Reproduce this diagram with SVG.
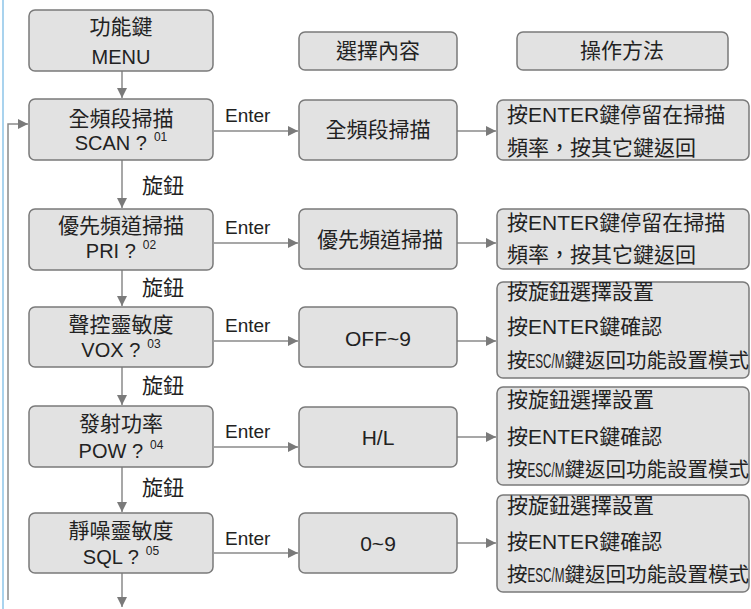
<svg xmlns="http://www.w3.org/2000/svg" width="751" height="609" viewBox="0 0 751 609">
<style>
.box{fill:#e2e2e2;stroke:#7a7a7a;stroke-width:1.5}
.t{font-family:"Liberation Sans","Noto Sans CJK TC",sans-serif;fill:#222;font-size:21px}
.c{text-anchor:middle}
.l{font-size:20px}
.e{font-size:19px}
.sup{font-size:12px}
.n{font-size:20.5px}
.con{fill:none;stroke:#8a8a8a;stroke-width:1.5}
</style>
<defs>
<marker id="ah" viewBox="0 0 10 10" refX="10" refY="5" markerWidth="10" markerHeight="10" markerUnits="userSpaceOnUse" orient="auto"><path d="M0,0 L10,5 L0,10 z" fill="#7a7a7a"/></marker>
</defs>
<rect width="751" height="609" fill="#ffffff"/>
<line x1="3" y1="0" x2="3" y2="609" stroke="#a9d3ee" stroke-width="2"/>

<g id="connectors">
<path class="con" d="M8,600 V124 H28" marker-end="url(#ah)"/>
<line class="con" x1="122" y1="71" x2="122" y2="98" marker-end="url(#ah)"/>
<line class="con" x1="122" y1="160" x2="122" y2="208" marker-end="url(#ah)"/>
<line class="con" x1="122" y1="270" x2="122" y2="306" marker-end="url(#ah)"/>
<line class="con" x1="122" y1="367" x2="122" y2="405" marker-end="url(#ah)"/>
<line class="con" x1="122" y1="467" x2="122" y2="512" marker-end="url(#ah)"/>
<line class="con" x1="122" y1="573" x2="122" y2="607" marker-end="url(#ah)"/>
<line class="con" x1="214" y1="131" x2="298" y2="131" marker-end="url(#ah)"/>
<line class="con" x1="214" y1="243" x2="298" y2="243" marker-end="url(#ah)"/>
<line class="con" x1="214" y1="341" x2="298" y2="341" marker-end="url(#ah)"/>
<line class="con" x1="214" y1="447" x2="298" y2="447" marker-end="url(#ah)"/>
<line class="con" x1="214" y1="553" x2="298" y2="553" marker-end="url(#ah)"/>
<line class="con" x1="457" y1="131" x2="496" y2="131" marker-end="url(#ah)"/>
<line class="con" x1="457" y1="243" x2="496" y2="243" marker-end="url(#ah)"/>
<line class="con" x1="457" y1="341" x2="496" y2="341" marker-end="url(#ah)"/>
<line class="con" x1="457" y1="437" x2="496" y2="437" marker-end="url(#ah)"/>
<line class="con" x1="457" y1="543" x2="496" y2="543" marker-end="url(#ah)"/>
<text class="t" x="142" y="193">旋鈕</text>
<text class="t" x="142" y="295">旋鈕</text>
<text class="t" x="142" y="393">旋鈕</text>
<text class="t" x="142" y="495">旋鈕</text>
<text class="t e" x="225" y="122">Enter</text>
<text class="t e" x="225" y="234">Enter</text>
<text class="t e" x="225" y="332">Enter</text>
<text class="t e" x="225" y="438">Enter</text>
<text class="t e" x="225" y="545">Enter</text>
</g>

<g id="menu">
<rect class="box" x="29" y="10" width="184" height="61" rx="6"/>
<text class="t c" x="121" y="34">功能鍵</text>
<text class="t c l" x="121" y="64">MENU</text>
</g>
<g id="hdr-select">
<rect class="box" x="299" y="32" width="158" height="38" rx="6"/>
<text class="t c" x="378" y="58">選擇內容</text>
</g>
<g id="hdr-method">
<rect class="box" x="517" y="32" width="211" height="38" rx="6"/>
<text class="t c" x="622" y="58">操作方法</text>
</g>

<g id="scan">
<rect class="box" x="29" y="99" width="184" height="61" rx="6"/>
<text class="t c" x="121" y="126">全頻段掃描</text>
<text class="t c l" x="121" y="150">SCAN ?<tspan class="sup" dx="7" dy="-9">01</tspan></text>
</g>
<g id="scan-sel">
<rect class="box" x="299" y="100" width="158" height="60" rx="6"/>
<text class="t c" x="378" y="137">全頻段掃描</text>
</g>
<g id="scan-op">
<rect class="box" x="497" y="100" width="252" height="60" rx="6"/>
<text class="t" x="507" y="122">按ENTER鍵停留在掃描</text>
<text class="t" x="507" y="155">頻率，按其它鍵返回</text>
</g>

<g id="pri">
<rect class="box" x="29" y="209" width="184" height="61" rx="6"/>
<text class="t c" x="121" y="233">優先頻道掃描</text>
<text class="t c l" x="121" y="258">PRI ?<tspan class="sup" dx="7" dy="-9">02</tspan></text>
</g>
<g id="pri-sel">
<rect class="box" x="299" y="209" width="158" height="60" rx="6"/>
<text class="t c" x="380" y="247">優先頻道掃描</text>
</g>
<g id="pri-op">
<rect class="box" x="497" y="209" width="252" height="60" rx="6"/>
<text class="t" x="507" y="230">按ENTER鍵停留在掃描</text>
<text class="t" x="507" y="262">頻率，按其它鍵返回</text>
</g>

<g id="vox">
<rect class="box" x="29" y="307" width="184" height="60" rx="6"/>
<text class="t c" x="121" y="332">聲控靈敏度</text>
<text class="t c l" x="121" y="357">VOX ?<tspan class="sup" dx="7" dy="-9">03</tspan></text>
</g>
<g id="vox-sel">
<rect class="box" x="299" y="307" width="158" height="60" rx="6"/>
<text class="t c" x="378" y="346">OFF~9</text>
</g>
<g id="vox-op">
<rect class="box" x="497" y="282" width="252" height="96" rx="6"/>
<text class="t" x="507" y="299">按旋鈕選擇設置</text>
<text class="t" x="507" y="334">按ENTER鍵確認</text>
<text class="t n" x="507" y="368">按<tspan textLength="37" lengthAdjust="spacingAndGlyphs">ESC/M</tspan>鍵返回功能設置模式</text>
</g>

<g id="pow">
<rect class="box" x="29" y="406" width="184" height="61" rx="6"/>
<text class="t c" x="121" y="431">發射功率</text>
<text class="t c l" x="121" y="458">POW ?<tspan class="sup" dx="7" dy="-9">04</tspan></text>
</g>
<g id="pow-sel">
<rect class="box" x="299" y="407" width="158" height="60" rx="6"/>
<text class="t c" x="378" y="445">H/L</text>
</g>
<g id="pow-op">
<rect class="box" x="497" y="387" width="252" height="98" rx="6"/>
<text class="t" x="507" y="407">按旋鈕選擇設置</text>
<text class="t" x="507" y="444">按ENTER鍵確認</text>
<text class="t n" x="507" y="477">按<tspan textLength="37" lengthAdjust="spacingAndGlyphs">ESC/M</tspan>鍵返回功能設置模式</text>
</g>

<g id="sql">
<rect class="box" x="29" y="513" width="184" height="60" rx="6"/>
<text class="t c" x="121" y="538">靜噪靈敏度</text>
<text class="t c l" x="121" y="564">SQL ?<tspan class="sup" dx="7" dy="-9">05</tspan></text>
</g>
<g id="sql-sel">
<rect class="box" x="299" y="513" width="158" height="60" rx="6"/>
<text class="t c" x="378" y="551">0~9</text>
</g>
<g id="sql-op">
<rect class="box" x="497" y="495" width="252" height="97" rx="6"/>
<text class="t" x="507" y="513">按旋鈕選擇設置</text>
<text class="t" x="507" y="549">按ENTER鍵確認</text>
<text class="t n" x="507" y="582">按<tspan textLength="37" lengthAdjust="spacingAndGlyphs">ESC/M</tspan>鍵返回功能設置模式</text>
</g>
</svg>
